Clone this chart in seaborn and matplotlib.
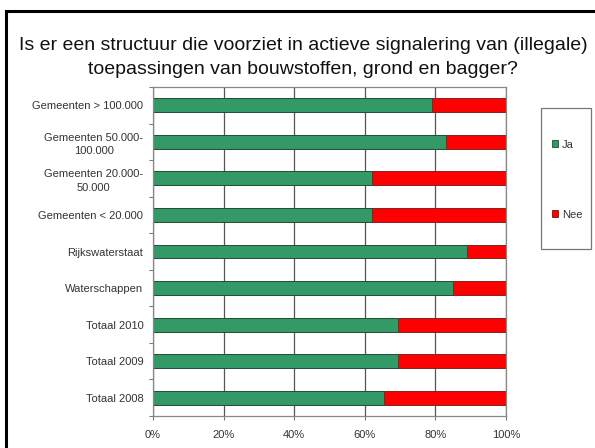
import pandas as pd
import matplotlib.pyplot as plt
import matplotlib.patches as mpatches
from matplotlib.ticker import FixedLocator, PercentFormatter
import seaborn as sns

# Data (percentages)
categories = [
    "Gemeenten > 100.000",
    "Gemeenten 50.000-\n100.000",
    "Gemeenten 20.000-\n50.000",
    "Gemeenten < 20.000",
    "Rijkswaterstaat",
    "Waterschappen",
    "Totaal 2010",
    "Totaal 2009",
    "Totaal 2008",
]
ja = [79, 83, 62, 62, 89, 85, 69.5, 69.5, 65.5]
nee = [21, 17, 38, 38, 11, 15, 30.5, 30.5, 34.5]

df = pd.DataFrame({"categorie": categories, "Ja": ja, "Nee": nee})
df["totaal"] = df["Ja"] + df["Nee"]

sns.set_style("white")
plt.rcParams["font.family"] = ["Liberation Sans", "DejaVu Sans"]

green = "#339966"
red = "#ff0000"

fig = plt.figure(figsize=(5.95, 4.48), dpi=100)
ax = fig.add_axes([153 / 595, 1 - 416 / 448, 353 / 595, 329 / 448])

# stacked bars: full bar in red, Ja part in green on top
sns.barplot(data=df, x="totaal", y="categorie", orient="h", color=red,
            width=0.38, edgecolor="#7a1010", linewidth=0.6, ax=ax, saturation=1)
sns.barplot(data=df, x="Ja", y="categorie", orient="h", color=green,
            width=0.38, edgecolor="#1d4d33", linewidth=0.6, ax=ax, saturation=1)

ax.set_xlim(0, 100)
ax.set_ylim(len(categories) - 0.5, -0.5)
ax.set_xlabel("")
ax.set_ylabel("")
ax.xaxis.set_major_locator(FixedLocator([0, 20, 40, 60, 80, 100]))
ax.xaxis.set_major_formatter(PercentFormatter(decimals=0))
ax.grid(axis="x", color="#555555", linewidth=0.9)
ax.set_axisbelow(True)

# ticks at category boundaries on the y axis
ax.yaxis.set_minor_locator(FixedLocator([i + 0.5 for i in range(-1, len(categories))]))
ax.tick_params(axis="y", which="major", length=0, pad=7, labelsize=8, labelcolor="#333333")
ax.tick_params(axis="y", which="minor", length=3, width=0.8, color="#777777", left=True)
ax.tick_params(axis="x", which="major", length=3, width=0.8, color="#777777",
               bottom=True, pad=7, labelsize=8, labelcolor="#333333")
for lbl in ax.get_yticklabels():
    lbl.set_multialignment("center")
    lbl.set_linespacing(1.45)

for side in ["left", "bottom", "right", "top"]:
    ax.spines[side].set_visible(True)
    ax.spines[side].set_color("#888888")
    ax.spines[side].set_linewidth(0.9)

fig.text(303 / 595, 1 - 46 / 448, "Is er een structuur die voorziet in actieve signalering van (illegale)",
         ha="center", va="center", fontsize=14, color="#111111")
fig.text(303 / 595, 1 - 70 / 448, "toepassingen van bouwstoffen, grond en bagger?",
         ha="center", va="center", fontsize=14, color="#111111")

# legend
handles = [mpatches.Patch(facecolor=green, edgecolor="#1d4d33", linewidth=0.6, label="Ja"),
           mpatches.Patch(facecolor=red, edgecolor="#7a1010", linewidth=0.6, label="Nee")]
fig.legend(handles=handles, loc="center", bbox_to_anchor=(567 / 595, 1 - 179.5 / 448),
           frameon=False, fontsize=8, handlelength=0.6, handleheight=0.6,
           handletextpad=0.3, labelspacing=5.4, labelcolor="#333333")
fig.patches.append(mpatches.Rectangle((541 / 595, 1 - 249 / 448), 50 / 595, 141 / 448,
                                      transform=fig.transFigure, fill=False,
                                      edgecolor="#777777", linewidth=0.9))

# outer frame
fig.patches.append(mpatches.Rectangle((6 / 595, -0.05), 1.0, 1 - 11 / 448 + 0.05,
                                      transform=fig.transFigure, fill=False,
                                      edgecolor="black", linewidth=2.2))

fig.savefig("out.png", dpi=100)
